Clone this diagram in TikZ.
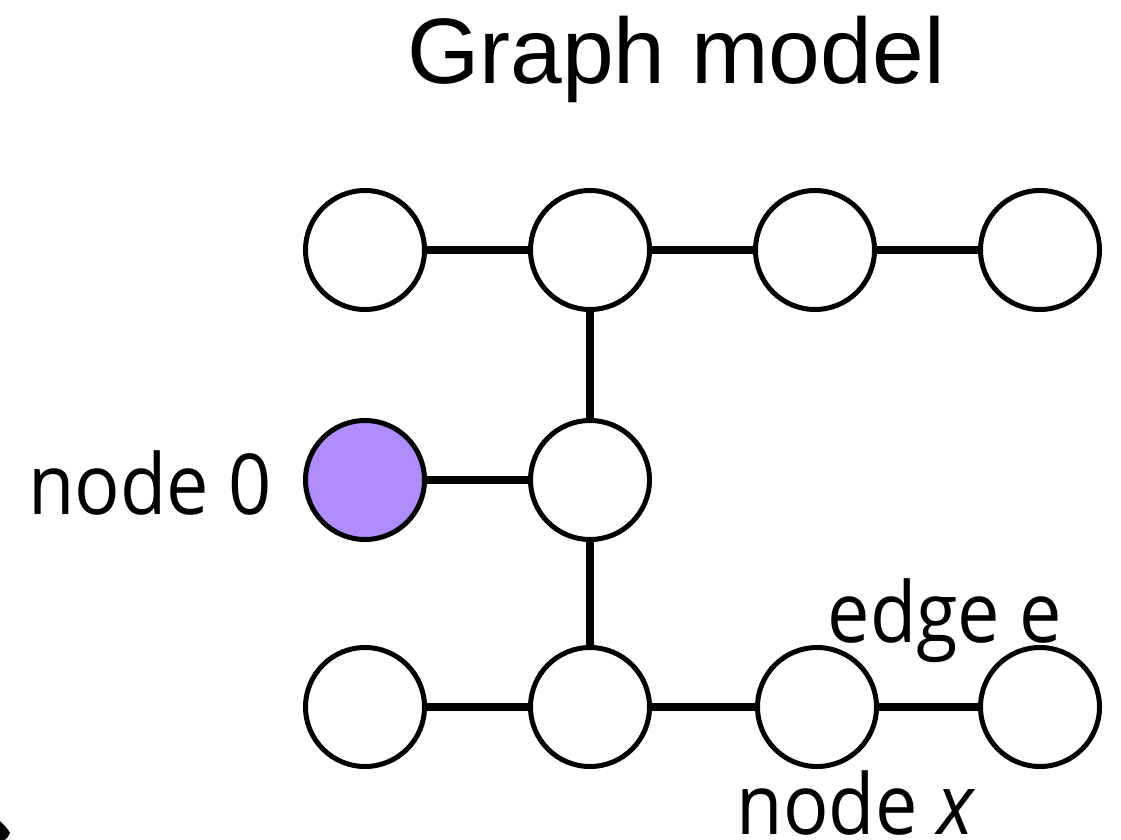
\documentclass[tikz,border=0pt]{standalone}
\usepackage{fontspec}
\setmainfont{Liberation Sans}
\newfontfamily\labelfont[FakeStretch=0.9]{Open Sans}
\definecolor{startfill}{RGB}{176,140,250}
\tikzset{
  vertex/.style={circle, draw=black, line width=5pt, fill=white, minimum size=119pt, inner sep=0pt},
  startvertex/.style={vertex, fill=startfill},
  link/.style={line width=7.5pt, black},
  tag/.style={font=\labelfont\fontsize{84}{90}\selectfont, inner sep=0pt, anchor=base},
  heading/.style={font=\fontsize{93}{100}\selectfont, inner sep=0pt, anchor=base}
}
\begin{document}
\begin{tikzpicture}[x=1pt, y=-1pt]
  \useasboundingbox (0,0) rectangle (1121,840);

  % title
  \node[heading] (title) at (676,84) {Graph model};

  % vertices: top row
  \node[vertex] (a1) at (365,250) {};
  \node[vertex] (a2) at (590,250) {};
  \node[vertex] (a3) at (815,250) {};
  \node[vertex] (a4) at (1040,250) {};
  % middle row
  \node[startvertex] (b1) at (365,480) {};
  \node[vertex] (b2) at (590,480) {};
  % bottom row
  \node[vertex] (c1) at (365,707) {};
  \node[vertex] (c2) at (590,707) {};
  \node[vertex] (c3) at (817,707) {};
  \node[vertex] (c4) at (1040,707) {};

  % edges
  \draw[link] (a1) -- (a2);
  \draw[link] (a2) -- (a3);
  \draw[link] (a3) -- (a4);
  \draw[link] (a2) -- (b2);
  \draw[link] (b1) -- (b2);
  \draw[link] (b2) -- (c2);
  \draw[link] (c1) -- (c2);
  \draw[link] (c2) -- (c3);
  \draw[link] (c3) -- (c4);

  % labels
  \node[tag] (l0) at (150,514) {node 0};
  \node[tag] (le) at (945,642) {edge e};
  \node[tag] (lx) at (856,834) {node \textit{x}};

  % fragment of a shape entering at the lower left corner
  \fill[black] (0,821) .. controls (4,825) and (8,829) .. (10,833)
    .. controls (9,836) and (7,838) .. (5,840) -- (0,840) -- cycle;
\end{tikzpicture}
\end{document}
